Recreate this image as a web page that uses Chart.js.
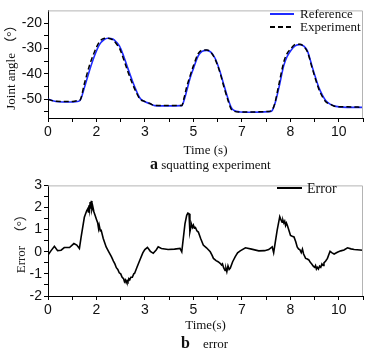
<!DOCTYPE html>
<html>
<head>
<meta charset="utf-8">
<script src="https://cdn.jsdelivr.net/npm/chart.js@4.4.1/dist/chart.umd.min.js"></script>
<style>
body { margin:0; background:#fff; width:372px; height:351px; position:relative; overflow:hidden; }
.box { position:absolute; left:0; width:372px; height:158px; }
#topBox { top:0; }
#botBox { top:175px; }
.cap { position:absolute; font-family:'Liberation Serif', serif; font-size:13px; color:#111; white-space:nowrap; line-height:16px; }
.cap b { font-size:16px; }
</style>
</head>
<body>
<div class="box" id="topBox"><canvas id="angleChart" width="372" height="158"></canvas></div>
<div class="cap" style="left:150px; top:156px;"><b>a</b> squatting experiment</div>
<div class="box" id="botBox"><canvas id="errorChart" width="372" height="158"></canvas></div>
<div class="cap" style="left:181px; top:335px;"><b>b</b>&nbsp;&nbsp;&nbsp;&nbsp;error</div>

<script>
// axis ticks (minor ticks get an empty label)
const timeTicks = [0, 0.833, 1.667, 2.5, 3.333, 4.167, 5, 5.833, 6.667, 7.5, 8.333, 9.167, 10, 10.833];
const timeLabels = ["0", "", "2", "", "3", "", "5", "", "7", "", "8", "", "10", ""];
const angleTicks = [-55, -50, -45, -40, -35, -30, -25, -20];
const angleLabels = ["", "-50", "", "-40", "", "-30", "", "-20"];
const errTicks = [-2, -1.5, -1, -0.5, 0, 0.5, 1, 1.5, 2, 2.5, 3];
const errLabels = ["-2", "", "-1", "", "0", "", "1", "", "2", "", "3"];

// joint angle, reference and experiment share the same time stamps
const angleT = [0, 0.27, 0.8, 1.0, 1.1, 1.25, 1.42, 1.6, 1.77, 1.92, 2.06, 2.23, 2.35, 2.46, 2.6, 2.75, 2.9, 3.04, 3.16, 3.3,
  3.5, 3.67, 4.0, 4.6, 4.68, 4.77, 4.88, 5.0, 5.17, 5.3, 5.46, 5.6, 5.75, 5.92, 6.05, 6.21, 6.3, 6.38, 6.61, 7.0,
  7.6, 7.7, 7.8, 7.94, 8.11, 8.22, 8.34, 8.5, 8.66, 8.8, 8.92, 9.09, 9.2, 9.32, 9.45, 9.55, 9.7, 9.9, 10.3, 10.833];
const refAngle = [-50, -51, -51.2, -51, -50.6, -45.6, -39, -32.9, -28.5, -26.6, -26, -26.3, -27.5, -29.1, -33, -38, -42.8, -46.8, -49.6, -50.9,
  -51.8, -52.6, -52.7, -52.6, -50.5, -46.8, -42, -38, -32.9, -31.2, -30.8, -31.5, -34, -39.3, -44.5, -50.6, -53.3, -54.4, -55.1, -55.2,
  -55, -54.7, -52, -45.6, -36.7, -33.3, -31, -29, -28.5, -29.1, -31, -37.4, -41.5, -45.6, -48.8, -50.6, -52, -52.9, -53.3, -53.3];
const expAngle = [-50.15, -50.9, -51, -50.7, -50.45, -44, -36.95, -31.3, -27.35, -26.1, -25.95, -26.65, -28.2, -30, -34.25, -39.3, -43.85, -47.5, -50, -50.85,
  -51.75, -52.6, -52.6, -52.6, -49.5, -45.2, -41.05, -36.9, -32, -30.75, -30.65, -31.5, -34.35, -39.8, -45.25, -51.25, -54, -54.75, -55.1, -55.1,
  -54.9, -54.5, -51.7, -44.2, -35.3, -32.05, -30.26, -28.5, -28.4, -29.3, -31.35, -38, -42.2, -46.3, -49.4, -51.05, -52, -52.95, -53.1, -53.25];

// tracking error
const errT = [0, 0.1, 0.22, 0.33, 0.45, 0.56, 0.74, 0.89, 0.99, 1.08, 1.14, 1.25, 1.33, 1.37, 1.39, 1.41, 1.43, 1.45, 1.47, 1.49,
  1.51, 1.54, 1.58, 1.63, 1.67, 1.71, 1.74, 1.76, 1.8, 1.83, 1.9, 2.0, 2.09, 2.18, 2.25, 2.3, 2.35, 2.4, 2.45, 2.5,
  2.55, 2.6, 2.63, 2.66, 2.69, 2.72, 2.75, 2.78, 2.81, 2.85, 2.9, 2.95, 2.98, 3.06, 3.16, 3.26, 3.33, 3.42, 3.52, 3.62,
  3.72, 3.79, 3.9, 4.13, 4.35, 4.54, 4.6, 4.71, 4.77, 4.81, 4.85, 4.88, 4.92, 4.94, 4.97, 5.0, 5.03, 5.07, 5.12, 5.17,
  5.25, 5.34, 5.45, 5.58, 5.64, 5.69, 5.78, 5.85, 5.92, 5.97, 6.0, 6.04, 6.09, 6.12, 6.15, 6.19, 6.23, 6.27, 6.35, 6.44,
  6.52, 6.61, 6.79, 7.0, 7.25, 7.45, 7.59, 7.71, 7.76, 7.88, 7.97, 8.01, 8.05, 8.08, 8.11, 8.14, 8.17, 8.2, 8.23, 8.29,
  8.34, 8.4, 8.46, 8.52, 8.57, 8.62, 8.66, 8.71, 8.75, 8.79, 8.86, 8.92, 8.97, 9.02, 9.07, 9.13, 9.17, 9.2, 9.23, 9.26,
  9.3, 9.34, 9.38, 9.42, 9.46, 9.49, 9.55, 9.61, 9.7, 9.77, 9.84, 9.95, 10.07, 10.18, 10.3, 10.42, 10.53, 10.833];
const errVal = [-0.15, 0.04, 0.25, 0.05, 0.07, 0.19, 0.19, 0.37, 0.3, 0.15, 0.67, 1.56, 1.85, 1.95, 1.8, 2.1, 1.9, 2.25, 1.95, 2.3,
  1.9, 2.05, 1.8, 1.6, 1.45, 1.3, 1.05, 1.2, 0.95, 0.97, 0.6, 0.22, 0, -0.22, -0.42, -0.55, -0.72, -0.8, -0.95, -1.0,
  -1.15, -1.22, -1.35, -1.28, -1.4, -1.3, -1.35, -1.22, -1.27, -1.15, -1.15, -1.0, -0.97, -0.7, -0.37, -0.05, 0.1, 0.2, 0.02, -0.07,
  0.08, 0.22, 0.15, 0.1, 0.12, 0.15, 0, 1.26, 1.65, 1.75, 1.72, 0.9, 1.15, 1.22, 1.1, 1.2, 1.08, 1.1, 0.95, 0.89,
  0.6, 0.3, 0.18, 0, -0.15, -0.3, -0.4, -0.45, -0.52, -0.6, -0.55, -0.72, -0.85, -0.75, -0.9, -0.64, -0.8, -0.74, -0.45, -0.22,
  -0.05, 0.04, 0.18, 0.12, 0.04, 0.05, 0.1, 0.22, -0.04, 0.97, 1.59, 1.45, 1.34, 1.42, 1.3, 1.38, 1.19, 1.3, 1.2, 0.95,
  0.74, 0.7, 0.67, 0.45, 0.22, 0.12, 0.1, -0.04, 0.12, -0.1, -0.3, -0.33, -0.37, -0.48, -0.55, -0.66, -0.7, -0.62, -0.78, -0.7,
  -0.78, -0.65, -0.7, -0.55, -0.62, -0.5, -0.42, -0.3, 0.02, -0.05, -0.1, -0.02, 0.04, 0.08, 0.18, 0.13, 0.1, 0.07];

const tickFont = { family: "'Liberation Sans', Arial, sans-serif", size: 14 };
const titleFamily = "'Liberation Serif', 'Noto Sans CJK SC', serif";

function toPoints(xs, ys) {
  return xs.map((x, i) => ({ x: x, y: ys[i] }));
}

// gray top/right border of the plot box
const frame = {
  id: "frame",
  afterDraw(chart) {
    const a = chart.chartArea;
    const ctx = chart.ctx;
    ctx.save();
    ctx.strokeStyle = "#b4b4b4";
    ctx.lineWidth = 1;
    ctx.beginPath();
    ctx.moveTo(a.left, a.top + 0.5);
    ctx.lineTo(a.right - 0.5, a.top + 0.5);
    ctx.lineTo(a.right - 0.5, a.bottom);
    ctx.stroke();
    ctx.restore();
  }
};

// small line-sample legend inside the plot
const lineLegend = {
  id: "lineLegend",
  afterDraw(chart, args, opts) {
    const ctx = chart.ctx;
    ctx.save();
    ctx.font = opts.font;
    ctx.textBaseline = "middle";
    chart.data.datasets.forEach((ds, i) => {
      const y = opts.y + i * opts.rowH;
      ctx.strokeStyle = ds.borderColor;
      ctx.lineWidth = 2;
      ctx.setLineDash(ds.borderDash || []);
      ctx.beginPath();
      ctx.moveTo(opts.x, y);
      ctx.lineTo(opts.x + opts.len, y);
      ctx.stroke();
      ctx.setLineDash([]);
      ctx.fillStyle = "#111";
      ctx.fillText(ds.label, opts.x + opts.len + opts.gap, y + 1);
    });
    ctx.restore();
  }
};

function axis(values, labels, extra) {
  return Object.assign({
    type: "linear",
    afterBuildTicks: s => { s.ticks = values.map(v => ({ value: v })); },
    ticks: {
      autoSkip: false,
      maxRotation: 0,
      padding: 2,
      color: "#111",
      font: tickFont,
      callback: (v, i) => labels[i]
    },
    grid: { drawOnChartArea: false, drawTicks: true, tickLength: 4, tickColor: "#000" },
    border: { display: true, color: "#000", width: 1 }
  }, extra);
}

new Chart(document.getElementById("angleChart"), {
  type: "line",
  data: {
    datasets: [{
      label: "Reference",
      data: toPoints(angleT, refAngle),
      borderColor: "#1f2bff",
      borderWidth: 1.6,
      pointRadius: 0,
      cubicInterpolationMode: "monotone",
      order: 1
    }, {
      label: "Experiment",
      data: toPoints(angleT, expAngle),
      borderColor: "#000",
      borderWidth: 1.5,
      borderDash: [5, 3],
      pointRadius: 0,
      cubicInterpolationMode: "monotone",
      order: 0
    }]
  },
  options: {
    responsive: false,
    animation: false,
    layout: { padding: { top: 6, right: 9, left: 0, bottom: 0 } },
    plugins: {
      legend: { display: false },
      tooltip: { enabled: false },
      lineLegend: { x: 270, y: 14, rowH: 13, len: 24, gap: 6, font: "13px " + titleFamily }
    },
    scales: {
      x: axis(timeTicks, timeLabels, {
        min: 0, max: 10.833,
        afterFit: s => { s.height = 40; },
        title: { display: true, text: "Time (s)", color: "#111", font: { family: titleFamily, size: 13 }, padding: { top: 0, bottom: 0 } }
      }),
      y: axis(angleTicks, angleLabels, {
        min: -57.5, max: -15,
        afterFit: s => { s.width = 48; },
        title: { display: true, text: "Joint angle （°）", color: "#111", font: { family: titleFamily, size: 13 }, padding: { top: 4, bottom: 0 } }
      })
    }
  },
  plugins: [frame, lineLegend]
});

new Chart(document.getElementById("errorChart"), {
  type: "line",
  data: {
    datasets: [{
      label: "Error",
      data: toPoints(errT, errVal),
      borderColor: "#000",
      borderWidth: 1.6,
      pointRadius: 0,
      tension: 0
    }]
  },
  options: {
    responsive: false,
    animation: false,
    layout: { padding: { top: 8, right: 9, left: 0, bottom: 0 } },
    plugins: {
      legend: { display: false },
      tooltip: { enabled: false },
      lineLegend: { x: 277, y: 13, rowH: 13, len: 25, gap: 5, font: "14px " + titleFamily }
    },
    scales: {
      x: axis(timeTicks, timeLabels, {
        min: 0, max: 10.833,
        afterFit: s => { s.height = 37; },
        title: { display: true, text: "Time(s)", color: "#111", font: { family: titleFamily, size: 13 }, padding: { top: 0, bottom: 0 } }
      }),
      y: axis(errTicks, errLabels, {
        min: -2, max: 3,
        afterFit: s => { s.width = 48; },
        title: { display: true, text: "Error  （°）", color: "#222", font: { family: titleFamily, size: 13 }, padding: { top: 14, bottom: 0 } }
      })
    }
  },
  plugins: [frame, lineLegend]
});
</script>
</body>
</html>
